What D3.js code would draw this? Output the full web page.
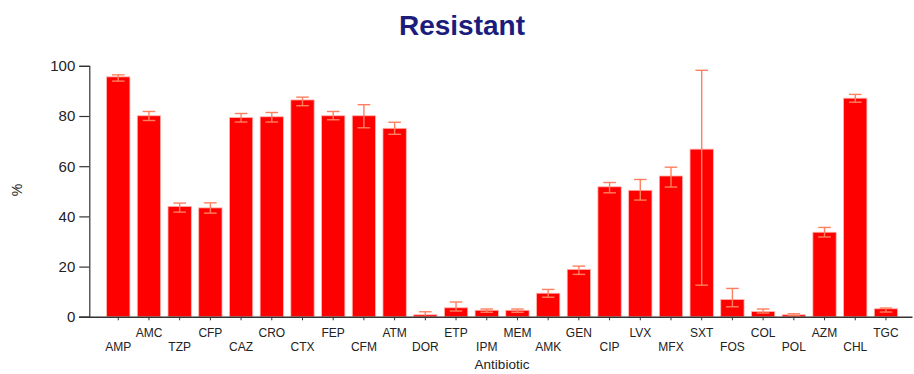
<!DOCTYPE html>
<html>
<head>
<meta charset="utf-8">
<script src="https://cdn.jsdelivr.net/npm/d3@7"></script>
<style>
  html, body { margin: 0; padding: 0; background: #fff; }
  svg { display: block; font-family: "Liberation Sans", Arial, sans-serif; }
</style>
</head>
<body>
<svg id="chart" width="914" height="374"></svg>
<script>
// Resistance rate (%) per antibiotic with lower / upper interval bounds
const antibiotics = ["AMP","AMC","TZP","CFP","CAZ","CRO","CTX","FEP","CFM","ATM","DOR","ETP","IPM",
                     "MEM","AMK","GEN","CIP","LVX","MFX","SXT","FOS","COL","POL","AZM","CHL","TGC"];
const resistant = [95.6, 80.1, 44.0, 43.4, 79.4, 79.7, 86.4, 80.1, 80.1, 75.1, 0.8, 3.6, 2.6,
                   2.6, 9.4, 18.9, 51.8, 50.4, 56.1, 66.8, 6.9, 2.1, 0.8, 33.7, 87.1, 3.2];
const lower = [93.9, 78.2, 41.7, 41.3, 77.6, 77.6, 84.1, 78.5, 75.3, 72.7, 0.0, 2.3, 1.8,
               1.8, 7.8, 16.9, 49.4, 46.5, 51.7, 12.6, 4.0, 1.5, 0.4, 31.8, 85.5, 1.9];
const upper = [96.4, 81.8, 45.3, 45.4, 81.0, 81.4, 87.5, 81.8, 84.5, 77.5, 2.0, 5.9, 3.1,
               3.1, 10.9, 20.2, 53.5, 54.7, 59.6, 98.2, 11.3, 3.1, 1.2, 35.6, 88.6, 3.5];
const yTicks = [0, 20, 40, 60, 80, 100];

const svg = d3.select("#chart");

const x = d3.scaleBand()
  .domain(antibiotics)
  .range([102.9, 901.3])
  .paddingInner(0.24)
  .paddingOuter(0.12);

const y = d3.scaleLinear().domain([0, 100]).range([316.8, 65.8]);

const rows = antibiotics.map((a, i) => ({ name: a, i, v: resistant[i], lo: lower[i], hi: upper[i] }));

// Title
svg.append("text")
  .attr("x", 462).attr("y", 35)
  .attr("text-anchor", "middle")
  .attr("font-size", 28).attr("font-weight", "bold")
  .attr("fill", "#1c1c7c")
  .text("Resistant");

// Bars
svg.append("g").selectAll("rect")
  .data(rows)
  .join("rect")
  .attr("x", d => x(d.name))
  .attr("y", d => y(d.v))
  .attr("width", x.bandwidth())
  .attr("height", d => y(0) - y(d.v))
  .attr("fill", "#ff0000")
  .attr("stroke", "#ffb8b0")
  .attr("stroke-width", 0.8);

// Error bars
const cap = 6.3;
const eb = svg.append("g").attr("stroke", "#ff8060").attr("stroke-width", 1.4).attr("fill", "none");
rows.forEach(d => {
  const cx = x(d.name) + x.bandwidth() / 2;
  eb.append("line").attr("x1", cx).attr("x2", cx).attr("y1", y(d.lo)).attr("y2", y(d.hi));
  eb.append("line").attr("x1", cx - cap).attr("x2", cx + cap).attr("y1", y(d.hi)).attr("y2", y(d.hi));
  eb.append("line").attr("x1", cx - cap).attr("x2", cx + cap).attr("y1", y(d.lo)).attr("y2", y(d.lo));
});

// Y axis
const yAxis = svg.append("g")
  .attr("transform", "translate(89.3,0)")
  .call(d3.axisLeft(y).tickValues(yTicks).tickSize(10).tickPadding(4).tickFormat(d3.format("d")));
yAxis.selectAll("path, line").attr("stroke", "#333").attr("stroke-width", 1.2);
yAxis.selectAll("text").attr("font-size", 15).attr("fill", "#222")
  .attr("font-family", "Liberation Sans, Arial, sans-serif");

// X axis with staggered labels
const xAxis = svg.append("g")
  .attr("transform", `translate(0,${y(0)})`)
  .call(d3.axisBottom(x).tickSize(3.5).tickSizeOuter(0));
xAxis.select(".domain").attr("d", "M79,0.5H912.5").attr("stroke", "#333").attr("stroke-width", 1.4);
xAxis.selectAll(".tick line").attr("stroke", "#333");
xAxis.selectAll(".tick text")
  .attr("font-size", 12).attr("fill", "#222")
  .attr("font-family", "Liberation Sans, Arial, sans-serif")
  .attr("y", (d, i) => i % 2 === 0 ? 26 : 12)
  .attr("dy", "0.71em");

// Axis titles
svg.append("text")
  .attr("x", 502).attr("y", 368.5)
  .attr("text-anchor", "middle")
  .attr("font-size", 13.5).attr("fill", "#222")
  .text("Antibiotic");

svg.append("text")
  .attr("transform", "translate(22,190) rotate(-90)")
  .attr("text-anchor", "middle")
  .attr("font-size", 14).attr("fill", "#222")
  .text("%");
</script>
</body>
</html>
